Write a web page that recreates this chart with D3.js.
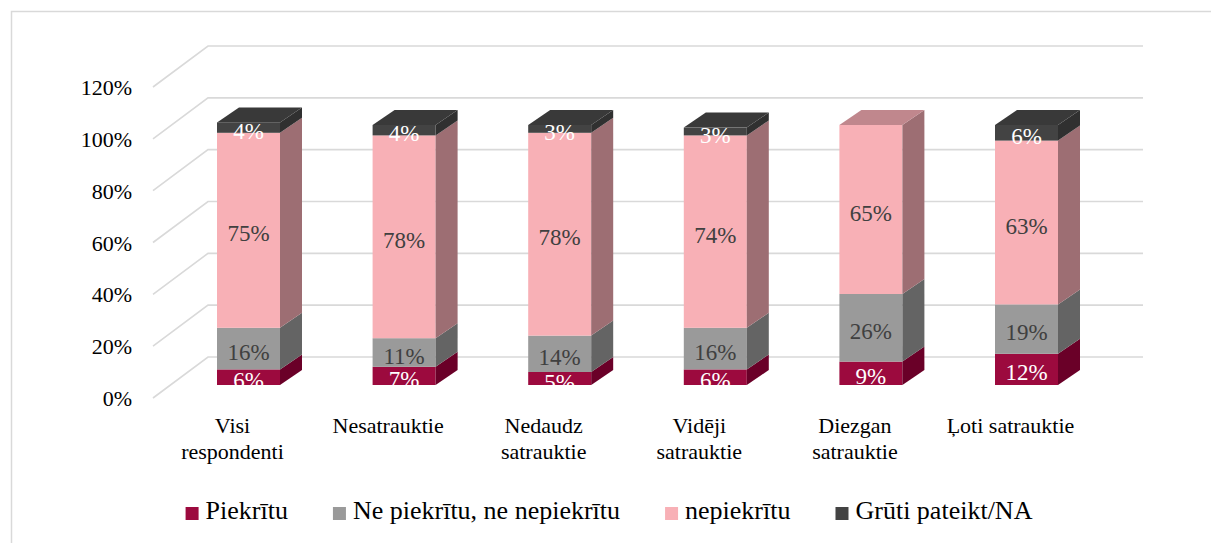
<!DOCTYPE html>
<html>
<head>
<meta charset="utf-8">
<script src="https://cdn.jsdelivr.net/npm/d3@7"></script>
<style>
  html, body { margin: 0; padding: 0; background: #fff; }
</style>
</head>
<body>
<svg id="chart" width="1211" height="543"></svg>
<script>
// ---- data ----
const categories = ["Visi respondenti", "Nesatrauktie", "Nedaudz satrauktie", "Vidēji satrauktie", "Diezgan satrauktie", "Ļoti satrauktie"];
const categoryLines = [["Visi", "respondenti"], ["Nesatrauktie"], ["Nedaudz", "satrauktie"], ["Vidēji", "satrauktie"], ["Diezgan", "satrauktie"], ["Ļoti satrauktie"]];
const seriesNames = ["Piekrītu", "Ne piekrītu, ne nepiekrītu", "nepiekrītu", "Grūti pateikt/NA"];
const piekritu = [6, 7, 5, 6, 9, 12];
const nePiekrituNeNepiekritu = [16, 11, 14, 16, 26, 19];
const nepiekritu = [75, 78, 78, 74, 65, 63];
const grutiPateikt = [4, 4, 3, 3, 0, 6];
const tickValues = [0, 20, 40, 60, 80, 100, 120];
const tickLabels = ["0%", "20%", "40%", "60%", "80%", "100%", "120%"];

// ---- font: use an installed serif face if there is one ----
function fontAvailable(name) {
  const ctx = document.createElement("canvas").getContext("2d");
  const s = "Ne piekrītu, ne nepiekrītu 120%";
  let diff = true;
  ["monospace", "sans-serif"].forEach(fb => {
    ctx.font = `40px ${fb}`;
    const w0 = ctx.measureText(s).width;
    ctx.font = `40px "${name}", ${fb}`;
    const w1 = ctx.measureText(s).width;
    if (Math.abs(w0 - w1) < 0.01) diff = false;
  });
  return diff;
}
const serifCandidates = ["Liberation Serif", "Tinos", "Times New Roman", "DejaVu Serif", "Noto Serif", "FreeSerif"];
const found = serifCandidates.find(fontAvailable);
const FONT = found ? `'${found}', serif` : "'Liberation Sans', Arial, sans-serif";

// ---- styles ----
const frontColors = ["#9c0a3e", "#9a9a9a", "#f8b0b6", "#434343"];
const sideColors  = ["#6a0028", "#646464", "#9d6e73", "#303030"];
const topColors   = ["#7e0532", "#808080", "#c0878d", "#393939"];
const labelColors = ["#ffffff", "#404040", "#404040", "#ffffff"];

const series = [piekritu, nePiekrituNeNepiekritu, nepiekritu, grutiPateikt];
const rows = categories.map((c, i) => {
  const r = { category: c };
  seriesNames.forEach((s, k) => r[s] = series[k][i]);
  return r;
});
const stacked = d3.stack().keys(seriesNames)(rows);

const svg = d3.select("#chart").attr("font-family", FONT);

// chart border
svg.append("rect").attr("x", 11.5).attr("y", 11.5).attr("width", 1260).attr("height", 560)
  .attr("fill", "none").attr("stroke", "#d9d9d9").attr("stroke-width", 1.5);

// 3D geometry
const wallDX = 55, wallDY = -41;     // depth of floor (front -> back wall)
const barDX = 22, barDY = -15;       // depth of the bars
const yBack = d3.scaleLinear().domain([0, 120]).range([357, 46]);
const yBar = d3.scaleLinear().domain([0, 120]).range([385, 385 - 312]);
const x = d3.scaleBand().domain(categories).range([170.7, 1104.3])
  .paddingInner(1 - 63 / 155.6).paddingOuter((1 - 63 / 155.6) / 2);
const wallLeft = 208, wallRight = 1143;

// gridlines
const grid = svg.append("g");
tickValues.forEach(v => {
  const yb = yBack(v);
  grid.append("path")
    .attr("d", `M${wallLeft - wallDX},${yb - wallDY} L${wallLeft},${yb} L${wallRight},${yb}`)
    .attr("fill", "none").attr("stroke", "#d9d9d9").attr("stroke-width", 1.6);
});

// y-axis labels
svg.append("g").selectAll("text").data(tickValues).join("text")
  .attr("x", 132).attr("y", d => yBack(d) - wallDY + 8)
  .attr("text-anchor", "end").attr("font-size", 22).attr("fill", "#000")
  .text((d, i) => tickLabels[i]);

// bars
const bars = svg.append("g");
categories.forEach((c, i) => {
  const x0 = x(c), x1 = x0 + x.bandwidth();
  let topK = -1;
  stacked.forEach((s, k) => {
    const [a, b] = s[i];
    if (b - a <= 0) return;
    topK = k;
    const yA = yBar(a), yB = yBar(b);
    bars.append("rect").attr("x", x0).attr("y", yB).attr("width", x1 - x0).attr("height", yA - yB)
      .attr("fill", frontColors[k]);
    bars.append("path")
      .attr("d", `M${x1},${yA} L${x1 + barDX},${yA + barDY} L${x1 + barDX},${yB + barDY} L${x1},${yB} Z`)
      .attr("fill", sideColors[k]);
  });
  const total = stacked[stacked.length - 1][i][1];
  const yT = yBar(total);
  bars.append("path")
    .attr("d", `M${x0},${yT} L${x0 + barDX},${yT + barDY} L${x1 + barDX},${yT + barDY} L${x1},${yT} Z`)
    .attr("fill", topColors[topK]);
});

// data labels
const labels = svg.append("g").attr("font-size", 23).attr("text-anchor", "middle");
categories.forEach((c, i) => {
  const cx = x(c) + x.bandwidth() / 2;
  stacked.forEach((s, k) => {
    const [a, b] = s[i];
    const v = series[k][i];
    if (v <= 0) return;
    labels.append("text").attr("x", cx).attr("y", (yBar(a) + yBar(b)) / 2 + 11)
      .attr("fill", labelColors[k]).text(v + "%");
  });
});

// category labels
const cat = svg.append("g").attr("font-size", 22).attr("text-anchor", "middle").attr("fill", "#000");
categories.forEach((c, i) => {
  const cx = x(c) + x.bandwidth() / 2 - 16;
  categoryLines[i].forEach((line, j) => {
    cat.append("text").attr("x", cx).attr("y", 433 + j * 25.5).text(line);
  });
});

// legend
const legend = svg.append("g");
const legendGap = 45;
let lx = 0;
seriesNames.forEach((name, k) => {
  const g = legend.append("g");
  g.append("rect").attr("x", 0).attr("y", 507).attr("width", 13).attr("height", 13).attr("fill", frontColors[k]);
  const t = g.append("text").attr("x", 20).attr("y", 519).attr("font-size", 26)
    .attr("fill", "#000").text(name);
  const w = 20 + t.node().getComputedTextLength();
  g.attr("transform", `translate(${lx},0)`);
  lx += w + legendGap;
});
const legendWidth = lx - legendGap;
legend.attr("transform", `translate(${609 - legendWidth / 2},0)`);
</script>
</body>
</html>
